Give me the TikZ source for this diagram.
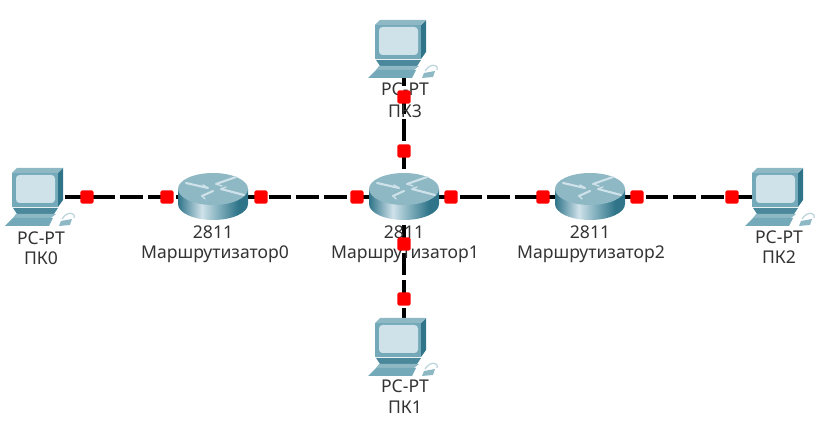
\documentclass[tikz,border=0pt]{standalone}
\usepackage{fontspec}
\setmainfont{Noto Sans}
\definecolor{tealdark}{HTML}{2F7489}
\definecolor{tealmid}{HTML}{74A9B9}
\definecolor{teallight}{HTML}{8DB8C4}
\definecolor{screenblue}{HTML}{CFE2EA}
\definecolor{portred}{HTML}{FF0000}
\pgfdeclarehorizontalshading{routerbody}{100bp}{
  color(0bp)=(tealdark); color(25bp)=(tealdark); color(42bp)=(screenblue);
  color(52bp)=(teallight); color(68bp)=(tealdark); color(100bp)=(tealdark)}
\tikzset{
  link/.style={line width=2.6pt, black, dash pattern=on 13pt off 2.8pt},
  anchorbox/.style={inner sep=0pt, minimum size=1pt},
  portdot/.style={fill=portred, rounded corners=1pt, inner sep=0pt, minimum size=7.6pt},
  devlabel/.style={font=\fontsize{10}{12}\selectfont, text=black!80, inner sep=0pt},
  routericon/.pic={
    \shade[shading=routerbody] (-35,-8) -- (-35,7)
      .. controls (-35,16) and (-19,23) .. (0,23)
      .. controls (19,23) and (35,16) .. (35,7) -- (35,-8) -- cycle;
    \fill[teallight] (0,-8) ellipse [x radius=35, y radius=16];
    \draw[screenblue, line width=1.2pt, line cap=round]
      (-27,-14) -- (-5,-9) (3,-13) -- (23,-20) (-11,-1) -- (0,-6) (8,-8) -- (31,-2);
    \draw[screenblue, line width=.8pt, line cap=round]
      (-5,-9) -- (-10,-12) (3,-13) -- (9,-11) (-11,-1) -- (-8,2) (8,-8) -- (13,-10);
  },
  pcicon/.pic={
    % monitor
    \fill[tealdark] (21,-24) -- (26,-29) -- (26,3) -- (21,10) -- cycle;
    \fill[teallight] (-25,-24) -- (-20,-29) -- (26,-29) -- (21,-24) -- cycle;
    \fill[tealmid] (-25,-24) rectangle (21,10);
    \fill[screenblue, rounded corners=2pt] (-21,-22) rectangle (18,6);
    % base and keyboard
    \fill[tealdark!70!teallight] (-24,11) -- (21,11) -- (17,17) -- (-20,17) -- cycle;
    \fill[teallight] (-21,17) -- (19,17) -- (14,21) -- (-24,21) -- cycle;
    \fill[tealmid] (-24,21) -- (16,21) -- (12,29) -- (-32,29) -- cycle;
    % mouse
    \fill[teallight] (24,24) -- (35,22) -- (33,28) -- (22,29) -- cycle;
    \draw[teallight!60!white, line width=.7pt] (25,22) .. controls (30,14) and (39,15) .. (37,21);
  }
}
\begin{document}
\begin{tikzpicture}[x=0.02cm, y=-0.02cm]
  \useasboundingbox (0,0) rectangle (831,428);

  % --- device positions ---
  \node[anchorbox] (pc0) at (37,197) {};
  \node[anchorbox] (r0) at (213,197) {};
  \node[anchorbox] (r1) at (404,197) {};
  \node[anchorbox] (r2) at (590,197) {};
  \node[anchorbox] (pc2) at (777,197) {};
  \node[anchorbox] (pc3) at (404,49) {};
  \node[anchorbox] (pc1) at (404,347) {};

  % --- links ---
  \draw[link] (pc0.center) -- (r0.center);
  \draw[link] (r0.center) -- (r1.center);
  \draw[link] (r1.center) -- (r2.center);
  \draw[link] (r2.center) -- (pc2.center);
  \draw[link] (r1.center) -- (pc3.center);
  \draw[link] (r1.center) -- (pc1.center);

  % --- icons ---
  \pic at (r0) {routericon};
  \pic at (r1) {routericon};
  \pic at (r2) {routericon};
  \pic at (37,197) {pcicon};
  \pic at (777,197) {pcicon};
  \pic at (400,49) {pcicon};
  \pic at (400,347) {pcicon};

  % --- labels ---
  \foreach \name/\x/\y/\txt in {
    lpc0a/41/238/PC-PT, lpc0b/41/258/ПК0,
    lr0a/213/232/2811, lr0b/215/254/Маршрутизатор0,
    lr1a/404/232/2811, lr1b/405/254/Маршрутизатор1,
    lr2a/590/232/2811, lr2b/591/254/Маршрутизатор2,
    lpc2a/779/237/PC-PT, lpc2b/779/257/ПК2,
    lpc3a/405/89/PC-PT, lpc3b/405/111/ПК3,
    lpc1a/405/386/PC-PT, lpc1b/405/407/ПК1
  } {
    \node[devlabel] (\name) at (\x,\y) {\txt};
  }

  % --- ports ---
  \foreach \name/\x/\y in {
    p0/87/197, p1/167/197, p2/261/197, p3/357/197, p4/451/197, p5/543/197,
    p6/637/197, p7/732/197, p8/404/97, p9/404/151, p10/404/244, p11/404/299
  } {
    \node[portdot] (\name) at (\x,\y) {};
  }
\end{tikzpicture}
\end{document}
